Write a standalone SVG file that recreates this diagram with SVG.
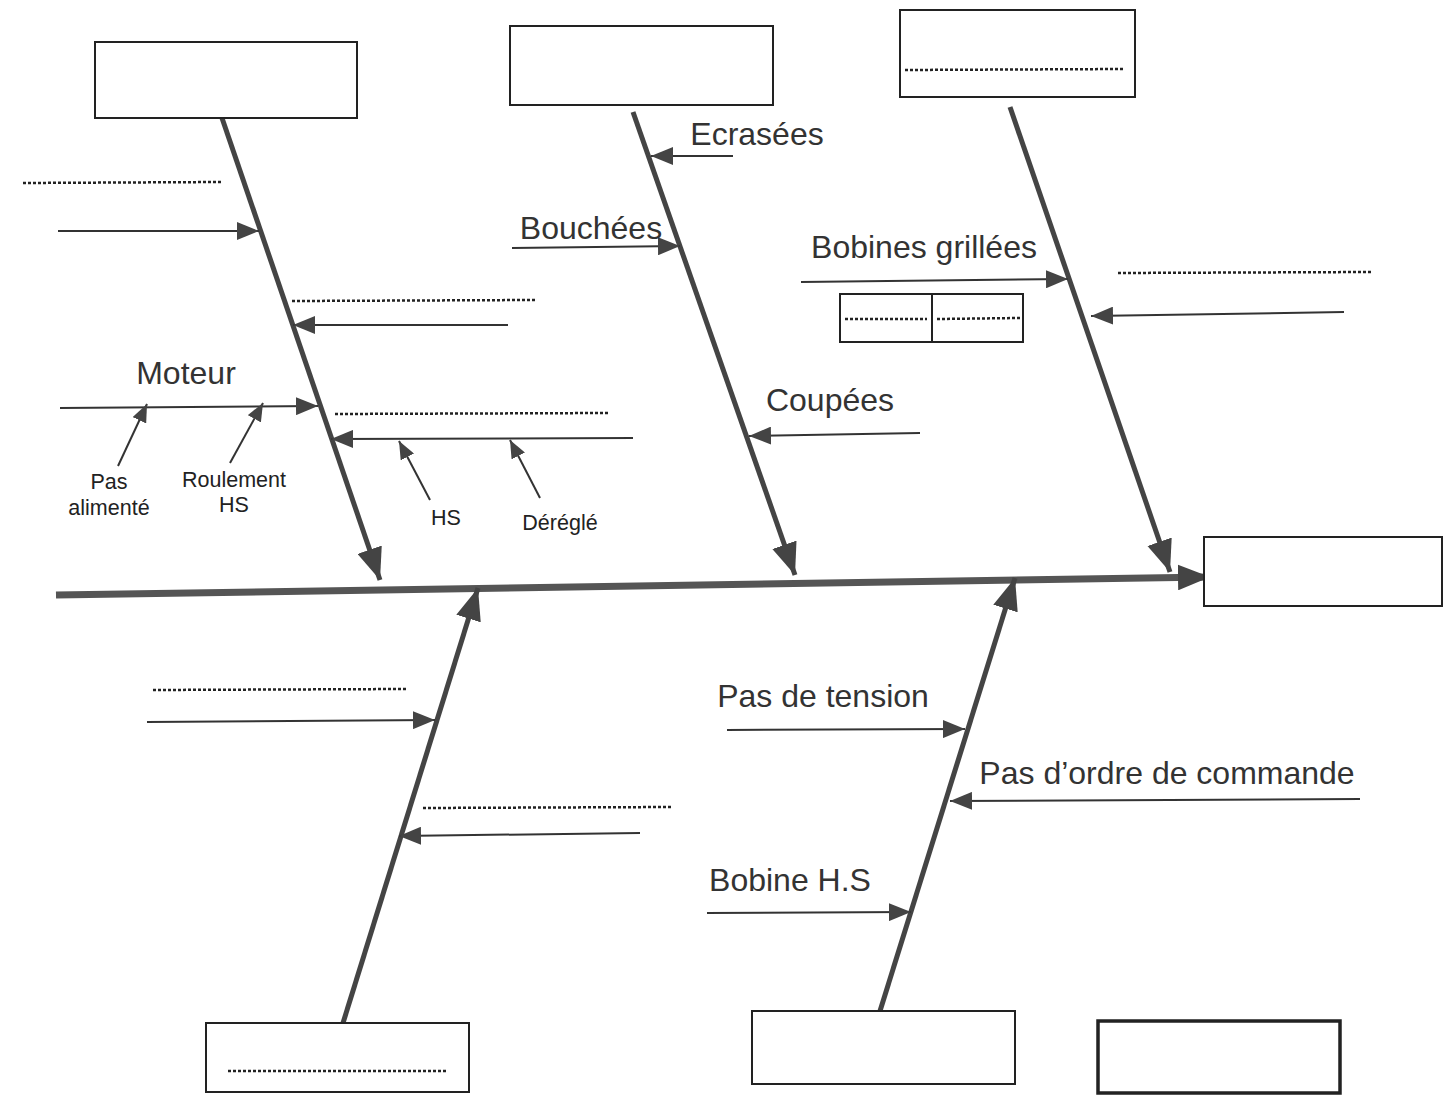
<svg xmlns="http://www.w3.org/2000/svg" width="1445" height="1095" viewBox="0 0 1445 1095">
<defs>
<style>
.box{fill:#fff;stroke:#222;stroke-width:2}
.boxb{fill:#fff;stroke:#222;stroke-width:3.5}
.dot{stroke:#222;stroke-width:2.5;stroke-dasharray:3 2;fill:none}
.bone{stroke:#444;stroke-width:5;fill:none}
.spine{stroke:#555;stroke-width:7;fill:none}
.arr{stroke:#333;stroke-width:2;fill:none}
.lbl{font-family:"Liberation Sans",Arial,sans-serif;fill:#333;font-size:32px;text-anchor:middle}
.sm{font-family:"Liberation Sans",Arial,sans-serif;fill:#222;font-size:21.5px;text-anchor:middle}
</style>
<marker id="big" viewBox="0 0 30 24" markerWidth="32" markerHeight="26" refX="30" refY="12" orient="auto" markerUnits="userSpaceOnUse"><path d="M0,0 L30,12 L0,24 z" fill="#444"/></marker>
<marker id="med" viewBox="0 0 22 18" markerWidth="22" markerHeight="18" refX="22" refY="9" orient="auto" markerUnits="userSpaceOnUse"><path d="M0,0 L22,9 L0,18 z" fill="#444"/></marker>
<marker id="sml" viewBox="0 0 18 15" markerWidth="18" markerHeight="15" refX="18" refY="7.5" orient="auto" markerUnits="userSpaceOnUse"><path d="M0,0 L18,7.5 L0,15 z" fill="#444"/></marker>
</defs>
<g id="connectors">
<line class="spine" x1="56" y1="595" x2="1210" y2="577" marker-end="url(#big)"/>
<line class="bone" x1="222" y1="118" x2="380" y2="580" marker-end="url(#big)"/>
<line class="bone" x1="633" y1="112" x2="795" y2="575" marker-end="url(#big)"/>
<line class="bone" x1="1010" y1="107" x2="1170" y2="572" marker-end="url(#big)"/>
<line class="bone" x1="343" y1="1023" x2="478" y2="588" marker-end="url(#big)"/>
<line class="bone" x1="880" y1="1011" x2="1015" y2="578" marker-end="url(#big)"/>
<line class="dot" x1="23" y1="183" x2="222" y2="182"/>
<line class="arr" x1="58" y1="231" x2="259" y2="231" marker-end="url(#med)"/>
<line class="dot" x1="292" y1="301" x2="535" y2="300"/>
<line class="arr" x1="508" y1="325" x2="293" y2="325" marker-end="url(#med)"/>
<line class="arr" x1="60" y1="408" x2="318" y2="406" marker-end="url(#med)"/>
<line class="arr" x1="118" y1="466" x2="147" y2="404" marker-end="url(#sml)"/>
<line class="arr" x1="230" y1="463" x2="263" y2="403" marker-end="url(#sml)"/>
<line class="dot" x1="335" y1="414" x2="608" y2="413"/>
<line class="arr" x1="633" y1="438" x2="331" y2="439" marker-end="url(#med)"/>
<line class="arr" x1="430" y1="500" x2="399" y2="441" marker-end="url(#sml)"/>
<line class="arr" x1="540" y1="498" x2="510" y2="440" marker-end="url(#sml)"/>
<line class="arr" x1="733" y1="156" x2="651" y2="156" marker-end="url(#med)"/>
<line class="arr" x1="512" y1="248" x2="680" y2="246" marker-end="url(#med)"/>
<line class="arr" x1="920" y1="433" x2="749" y2="436" marker-end="url(#med)"/>
<line class="arr" x1="801" y1="282" x2="1068" y2="279" marker-end="url(#med)"/>
<line class="dot" x1="1118" y1="273" x2="1371" y2="272"/>
<line class="arr" x1="1344" y1="312" x2="1091" y2="316" marker-end="url(#med)"/>
<line class="dot" x1="153" y1="690" x2="406" y2="689"/>
<line class="arr" x1="147" y1="722" x2="435" y2="720" marker-end="url(#med)"/>
<line class="dot" x1="423" y1="808" x2="673" y2="807"/>
<line class="arr" x1="640" y1="833" x2="399" y2="836" marker-end="url(#med)"/>
<line class="arr" x1="727" y1="730" x2="965" y2="729" marker-end="url(#med)"/>
<line class="arr" x1="1360" y1="799" x2="950" y2="801" marker-end="url(#med)"/>
<line class="arr" x1="707" y1="913" x2="911" y2="912" marker-end="url(#med)"/>
</g>
<g id="box-top-left"><rect class="box" x="95" y="42" width="262" height="76"/></g>
<g id="box-top-mid"><rect class="box" x="510" y="26" width="263" height="79"/></g>
<g id="box-top-right"><rect class="box" x="900" y="10" width="235" height="87"/><line class="dot" x1="905" y1="70" x2="1125" y2="69"/></g>
<g id="box-effect"><rect class="box" x="1204" y="537" width="238" height="69"/></g>
<g id="box-bottom-left"><rect class="box" x="206" y="1023" width="263" height="69"/><line class="dot" x1="228" y1="1071" x2="448" y2="1071"/></g>
<g id="box-bottom-mid"><rect class="box" x="752" y="1011" width="263" height="73"/></g>
<g id="box-bottom-right"><rect class="boxb" x="1098" y="1021" width="242" height="72"/></g>
<g id="box-small"><rect class="box" x="840" y="294" width="183" height="48"/><line class="box" x1="932" y1="294" x2="932" y2="342"/><line class="dot" x1="845" y1="319" x2="927" y2="319"/><line class="dot" x1="937" y1="319" x2="1020" y2="318"/></g>
<g id="labels">
<text class="lbl" x="186" y="384">Moteur</text>
<text class="sm" x="109" y="489">Pas</text>
<text class="sm" x="109" y="515">alimenté</text>
<text class="sm" x="234" y="487">Roulement</text>
<text class="sm" x="234" y="512">HS</text>
<text class="sm" x="446" y="525">HS</text>
<text class="sm" x="560" y="530">Déréglé</text>
<text class="lbl" x="757" y="145">Ecrasées</text>
<text class="lbl" x="591" y="239">Bouchées</text>
<text class="lbl" x="830" y="411">Coupées</text>
<text class="lbl" x="924" y="258">Bobines grillées</text>
<text class="lbl" x="823" y="707">Pas de tension</text>
<text class="lbl" x="1167" y="784">Pas d’ordre de commande</text>
<text class="lbl" x="790" y="891">Bobine H.S</text>
</g>
</svg>
